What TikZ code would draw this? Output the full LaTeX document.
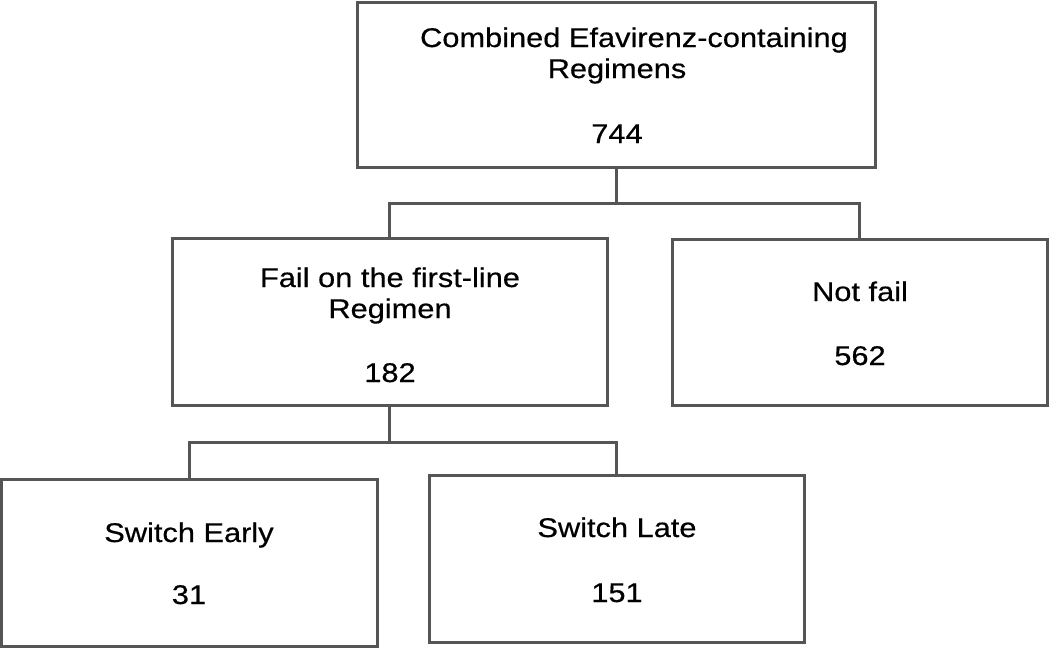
\documentclass[tikz,border=0pt]{standalone}
\usepackage{fontspec}
\setmainfont{Liberation Sans}[FakeStretch=1.14,FakeBold=0.5]
\definecolor{linegray}{HTML}{555555}
\begin{document}
\begin{tikzpicture}[x=1pt,y=-1pt,
  boxstyle/.style={draw=linegray, line width=3pt, rectangle, inner sep=0pt, outer sep=0pt},
  conn/.style={draw=linegray, line width=3pt},
  txt/.style={anchor=base, inner sep=0pt, text=black, font=\fontsize{27}{31}\selectfont}]
\useasboundingbox (0,0) rectangle (1050,648);
% boxes
\node[boxstyle, minimum width=518pt, minimum height=165pt] (top) at (616,84.5) {};
\node[boxstyle, minimum width=435pt, minimum height=167pt] (midL) at (389.5,321.5) {};
\node[boxstyle, minimum width=375pt, minimum height=166pt] (midR) at (859.5,322) {};
\node[boxstyle, minimum width=376pt, minimum height=167pt] (botL) at (189,562.5) {};
\node[boxstyle, minimum width=375pt, minimum height=167pt] (botR) at (616.5,558.5) {};
% junctions
\coordinate (j1) at (616,203);
\coordinate (j2) at (389.5,442);
% connectors
\draw[conn] (top.south) -- (j1);
\draw[conn] (midL.north) |- (j1) -| (midR.north);
\draw[conn] (midL.south) -- (j2);
\draw[conn] (botL.north) |- (j2) -| (botR.north);
% texts
\node[txt] (t1a) at (634,47) {Combined Efavirenz-containing};
\node[txt] (t1b) at (617,78) {Regimens};
\node[txt] (t1c) at (617,143) {744};
\node[txt] (t2a) at (390,287) {Fail on the first-line};
\node[txt] (t2b) at (390,318) {Regimen};
\node[txt] (t2c) at (390,382) {182};
\node[txt] (t3a) at (860,301) {Not fail};
\node[txt] (t3b) at (860,365) {562};
\node[txt] (t4a) at (189,542) {Switch Early};
\node[txt] (t4b) at (189,604) {31};
\node[txt] (t5a) at (617,537) {Switch Late};
\node[txt] (t5b) at (617,602) {151};
\end{tikzpicture}
\end{document}
